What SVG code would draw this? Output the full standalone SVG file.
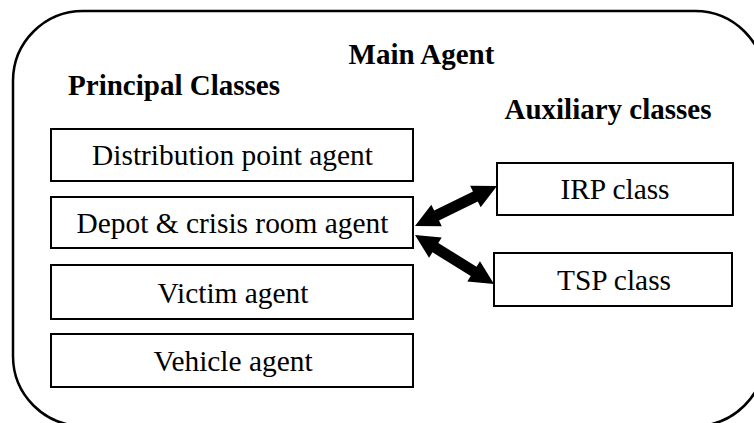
<svg xmlns="http://www.w3.org/2000/svg" width="754" height="423" viewBox="0 0 754 423">
  <style>
    .frame { fill: none; stroke: #000; stroke-width: 2.5; }
    .box { fill: #fff; stroke: #000; stroke-width: 2; }
    .lbl { font-family: "Liberation Serif", "Times New Roman", serif; font-size: 29.4px; fill: #000; text-anchor: middle; }
    .head { font-family: "Liberation Serif", "Times New Roman", serif; font-size: 29px; font-weight: bold; fill: #000; text-anchor: middle; }
    .arrow { fill: #000; }
  </style>
  <rect width="754" height="423" fill="#fff"/>

  <!-- main agent container -->
  <g id="main-agent">
    <rect class="frame" x="13" y="11" width="752" height="415" rx="70" ry="70"/>
    <text class="head" x="421.5" y="64">Main Agent</text>
    <text class="head" x="174" y="95">Principal Classes</text>
    <text class="head" x="608" y="119">Auxiliary classes</text>
  </g>

  <!-- principal classes -->
  <g id="distribution-point-agent">
    <rect class="box" x="51" y="129" width="362" height="52"/>
    <text class="lbl" x="232.5" y="165">Distribution point agent</text>
  </g>
  <g id="depot-crisis-room-agent">
    <rect class="box" x="51" y="197" width="362" height="51"/>
    <text class="lbl" x="232.5" y="233">Depot &amp; crisis room agent</text>
  </g>
  <g id="victim-agent">
    <rect class="box" x="51" y="265" width="362" height="54"/>
    <text class="lbl" x="233" y="303">Victim agent</text>
  </g>
  <g id="vehicle-agent">
    <rect class="box" x="51" y="334" width="362" height="53"/>
    <text class="lbl" x="233" y="371">Vehicle agent</text>
  </g>

  <!-- auxiliary classes -->
  <g id="irp-class">
    <rect class="box" x="497" y="163" width="236" height="52"/>
    <text class="lbl" x="615" y="199">IRP class</text>
  </g>
  <g id="tsp-class">
    <rect class="box" x="494" y="253" width="238" height="53"/>
    <text class="lbl" x="614" y="290">TSP class</text>
  </g>

  <!-- double-headed connectors -->
  <g id="connectors">
    <g transform="translate(415,226) rotate(-26)">
      <polygon class="arrow" points="0,0 24,-12 24,-5.5 67.2,-5.5 67.2,-12 91.2,0 67.2,12 67.2,5.5 24,5.5 24,12"/>
    </g>
    <g transform="translate(415,235) rotate(31.8)">
      <polygon class="arrow" points="0,0 24,-12 24,-5.5 69,-5.5 69,-12 93,0 69,12 69,5.5 24,5.5 24,12"/>
    </g>
  </g>
</svg>
